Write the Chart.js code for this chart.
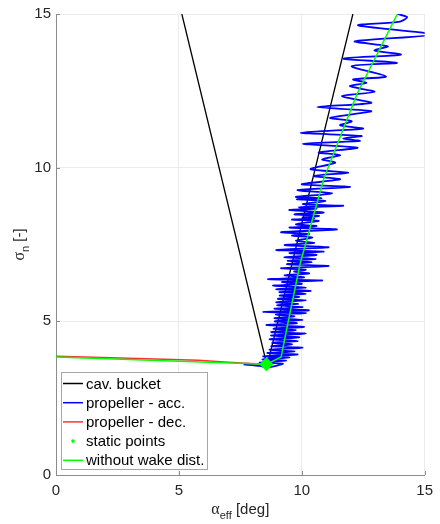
<!DOCTYPE html>
<html>
<head>
<meta charset="utf-8">
<script src="https://cdn.jsdelivr.net/npm/chart.js@4.4.1/dist/chart.umd.min.js"></script>
<style>
  html, body { margin: 0; padding: 0; background: #fff; }
  #wrap { width: 440px; height: 524px; }
</style>
</head>
<body>
<div id="wrap"><canvas id="sigmaChart"></canvas></div>
<script>
// tick labels
const xTicks = [0, 5, 10, 15];
const yTicks = [0, 5, 10, 15];

// cav. bucket
const bucketX = [5.12, 8.53, 8.65, 12.08];
const bucketY = [15.0, 3.75, 3.75, 15.0];

// propeller - acc.
const accX = [7.63, 8.30, 8.60,
  9.23, 8.29, 9.36, 8.40, 9.50, 8.43, 9.83, 8.60, 9.70, 8.69,
  10.03, 8.76, 9.60, 8.80, 9.83, 8.69, 9.90, 8.75, 10.16, 8.76,
  9.75, 8.85, 10.09, 8.56, 9.80, 8.90, 10.03, 8.89, 9.70, 8.95,
  10.16, 8.43, 10.29, 8.89, 10.03, 9.00, 9.85, 8.96, 10.16, 9.03,
  9.90, 9.10, 10.16, 9.09, 10.36, 8.96, 10.16, 8.83, 10.00, 9.20,
  10.83, 8.63, 10.09, 9.30, 10.30, 9.69, 10.16, 9.16, 11.09, 9.40,
  10.40, 9.43, 10.56, 9.29, 10.60, 9.50, 10.89, 8.96, 11.09,
  9.30, 10.50, 9.76, 10.43, 9.60, 10.30, 9.16, 11.43, 9.50, 10.60,
  9.76, 10.69, 9.60, 10.50, 10.03, 10.70, 9.70, 10.89, 9.49, 10.60,
  9.90, 11.69, 10.05, 10.96, 9.80, 10.80, 9.76, 11.23,
  9.83, 11.96, 10.00, 11.56, 10.49, 11.89, 10.36, 11.36, 10.83, 11.56,
  10.69, 12.27, 10.05, 12.36, 11.69, 12.43, 9.96, 12.49, 11.56, 12.03,
  11.16, 12.83, 10.63, 12.83, 11.63, 12.96, 11.96, 12.63, 12.09, 13.43,
  12.03, 13.87, 11.69, 14.03, 12.96, 13.50, 12.16, 15.30, 12.29, 14.00,
  14.29, 13.89];
const accY = [3.60, 3.55, 3.50,
  3.62, 3.66, 3.72, 3.76, 3.82, 3.86, 3.92, 3.97, 4.02, 4.08,
  4.14, 4.19, 4.25, 4.30, 4.36, 4.42, 4.48, 4.54, 4.60, 4.65,
  4.71, 4.76, 4.82, 4.88, 4.94, 5.00, 5.05, 5.10, 5.16, 5.22,
  5.27, 5.31, 5.36, 5.41, 5.46, 5.52, 5.57, 5.62, 5.68, 5.73,
  5.79, 5.84, 5.90, 5.95, 5.99, 6.04, 6.10, 6.16, 6.22, 6.28,
  6.33, 6.37, 6.43, 6.50, 6.56, 6.62, 6.68, 6.73, 6.80, 6.86,
  6.92, 6.97, 7.03, 7.09, 7.16, 7.22, 7.27, 7.32, 7.41,
  7.48, 7.55, 7.62, 7.73, 7.79, 7.84, 7.90, 7.99, 8.05, 8.10,
  8.16, 8.27, 8.31, 8.34, 8.38, 8.43, 8.48, 8.54, 8.62, 8.67,
  8.71, 8.76, 8.81, 8.92, 8.97, 9.01, 9.05, 9.16,
  9.27, 9.37, 9.46, 9.62, 9.73, 9.84, 9.95, 10.16, 10.27, 10.41,
  10.49, 10.65, 10.78, 10.87, 10.95, 11.03, 11.14, 11.27, 11.38, 11.51,
  11.62, 11.84, 11.97, 12.11, 12.33, 12.47, 12.65, 12.76, 12.87, 12.97,
  13.30, 13.41, 13.55, 13.68, 13.81, 13.95, 14.11, 14.33, 14.63, 14.75,
  14.90, 15.00];

// propeller - dec.
const decX = [0, 1.9, 5.8, 7.0, 8.5];
const decY = [3.86, 3.82, 3.73, 3.67, 3.60];

// static points
const staticX = [8.56];
const staticY = [3.60];

// without wake dist.
const noWakeX = [0, 8.56, 9.16, 9.40, 9.94, 10.90, 12.25, 13.89];
const noWakeY = [3.84, 3.60, 3.84, 4.80, 6.90, 9.65, 12.40, 15.00];

const toPoints = (xs, ys) => xs.map((x, i) => ({ x: x, y: ys[i] }));

const textColor = "#262626";
const axisColor = "#8c8c8c";
const sansFont = '"Liberation Sans", Arial, sans-serif';

// Judul sumbu dengan subscript
function drawParts(ctx, parts, cx, baseline) {
  let total = 0;
  parts.forEach((p) => {
    ctx.font = p[1];
    total += ctx.measureText(p[0]).width;
  });
  let x = cx - total / 2;
  parts.forEach((p) => {
    ctx.font = p[1];
    ctx.fillText(p[0], x, baseline + p[2]);
    x += ctx.measureText(p[0]).width;
  });
}

const axisTitles = {
  id: "axisTitles",
  afterDraw(chart) {
    const { ctx, chartArea } = chart;
    ctx.save();
    ctx.fillStyle = textColor;
    ctx.textBaseline = "alphabetic";
    ctx.textAlign = "left";
    drawParts(ctx, [
      ["α", '16px "Liberation Serif", serif', 0],
      ["eff", "11px " + sansFont, 5],
      [" [deg]", "15px " + sansFont, 0],
    ], (chartArea.left + chartArea.right) / 2, 514);

    ctx.translate(24, (chartArea.top + chartArea.bottom) / 2);
    ctx.rotate(-Math.PI / 2);
    drawParts(ctx, [
      ["σ", '16px "Liberation Serif", serif', 0],
      ["n", "11px " + sansFont, 5],
      [" [-]", "15px " + sansFont, 0],
    ], 0, 0);
    ctx.restore();

    // tick kecil ke dalam
    const xs = chart.scales.x;
    const ys = chart.scales.y;
    ctx.save();
    ctx.strokeStyle = axisColor;
    ctx.lineWidth = 1;
    ctx.beginPath();
    xTicks.slice(1).forEach((v) => {
      const px = Math.round(xs.getPixelForValue(v)) + 0.5;
      ctx.moveTo(px, chartArea.bottom);
      ctx.lineTo(px, chartArea.bottom - 4);
    });
    yTicks.slice(1).forEach((v) => {
      const py = Math.round(ys.getPixelForValue(v)) + 0.5;
      ctx.moveTo(chartArea.left, py);
      ctx.lineTo(chartArea.left + 4, py);
    });
    ctx.stroke();
    ctx.restore();
  },
};

// Legend di dalam area grafik (kiri bawah)
const innerLegend = {
  id: "innerLegend",
  afterDraw(chart) {
    const { ctx, chartArea } = chart;
    const left = chartArea.left + 5;
    const bottom = chartArea.bottom - 6;
    const w = 146;
    const h = 97;
    const top = bottom - h;
    ctx.save();
    ctx.fillStyle = "#fff";
    ctx.fillRect(left, top, w, h);
    ctx.strokeStyle = "#a6a6a6";
    ctx.lineWidth = 1;
    ctx.strokeRect(left + 0.5, top + 0.5, w, h);
    ctx.font = "15px " + sansFont;
    ctx.textBaseline = "middle";
    ctx.textAlign = "left";
    chart.data.datasets.forEach((ds, i) => {
      const cy = top + 11.5 + i * 19.2;
      if (ds.showLine) {
        ctx.strokeStyle = ds.borderColor;
        ctx.lineWidth = 1.5;
        ctx.beginPath();
        ctx.moveTo(left + 2, cy);
        ctx.lineTo(left + 22, cy);
        ctx.stroke();
      } else {
        ctx.fillStyle = ds.backgroundColor;
        ctx.beginPath();
        ctx.arc(left + 12, cy, 1.8, 0, Math.PI * 2);
        ctx.fill();
      }
      ctx.fillStyle = "#000";
      ctx.fillText(ds.label, left + 25, cy + 1);
    });
    ctx.restore();
  },
};

window.onload = () => {
  const ctx = document.getElementById("sigmaChart").getContext("2d");
  new Chart(ctx, {
    type: "scatter",
    data: {
      datasets: [
        {
          label: "cav. bucket",
          data: toPoints(bucketX, bucketY),
          showLine: true,
          borderColor: "#000000",
          borderWidth: 1.3,
          pointRadius: 0,
          order: 5,
        },
        {
          label: "propeller - acc.",
          data: toPoints(accX, accY),
          showLine: true,
          borderColor: "#0000ff",
          borderWidth: 1.8,
          pointRadius: 0,
          tension: 0.25,
          order: 4,
        },
        {
          label: "propeller - dec.",
          data: toPoints(decX, decY),
          showLine: true,
          borderColor: "#ff3030",
          borderWidth: 1.5,
          pointRadius: 0,
          order: 3,
        },
        {
          label: "static points",
          data: toPoints(staticX, staticY),
          showLine: false,
          backgroundColor: "#00ff00",
          borderColor: "#00ff00",
          pointStyle: "rectRot",
          pointRadius: 7,
          borderWidth: 0,
          order: 1,
        },
        {
          label: "without wake dist.",
          data: toPoints(noWakeX, noWakeY),
          showLine: true,
          borderColor: "#00ff00",
          borderWidth: 1.5,
          pointRadius: 0,
          order: 2,
        },
      ],
    },
    options: {
      responsive: true,
      maintainAspectRatio: false,
      animation: false,
      devicePixelRatio: 1,
      layout: { padding: { top: 12, right: 9, left: 0, bottom: 0 } },
      plugins: {
        legend: { display: false },
        tooltip: { enabled: false },
      },
      scales: {
        x: {
          type: "linear",
          min: 0,
          max: 15,
          afterBuildTicks: (s) => { s.ticks = xTicks.map((v) => ({ value: v })); },
          afterFit: (s) => { s.height = 49; },
          ticks: {
            color: textColor,
            font: { family: sansFont, size: 15 },
            padding: 7,
            maxRotation: 0,
          },
          grid: { color: "#ebebeb", drawTicks: false },
          border: { color: axisColor },
        },
        y: {
          type: "linear",
          min: 0,
          max: 15,
          afterBuildTicks: (s) => { s.ticks = yTicks.map((v) => ({ value: v })); },
          afterFit: (s) => { s.width = 56; },
          ticks: {
            color: textColor,
            font: { family: sansFont, size: 15 },
            padding: 5,
          },
          grid: { color: "#ebebeb", drawTicks: false },
          border: { color: axisColor },
        },
      },
    },
    plugins: [axisTitles, innerLegend],
  });
};
</script>
</body>
</html>
